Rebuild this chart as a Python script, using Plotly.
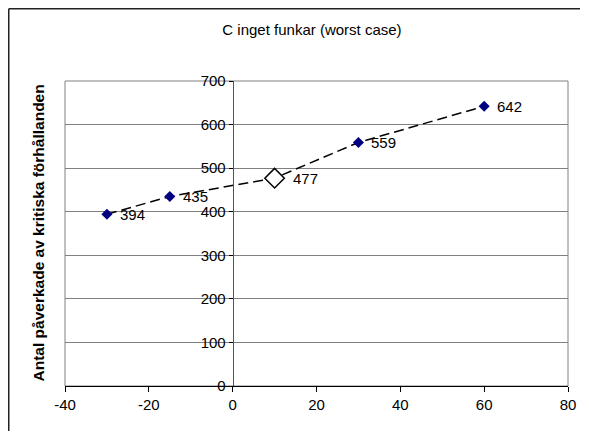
import plotly.graph_objects as go

x_vals = [-30, -15, 10, 30, 60]
y_vals = [394, 435, 477, 559, 642]
labels = ["394", "435", "477", "559", "642"]
hollow_index = 2

x_ticks = [-40, -20, 0, 20, 40, 60, 80]
x_tick_text = ["-40", "-20", "0", "20", "40", "60", "80"]

title_text = "C inget funkar (worst case)"
y_title = "Antal påverkade av kritiska förhållanden"

FONT = "Liberation Sans, Arial, sans-serif"

# The page body has an 8px default margin; figure coords = page coords - 8
W, H = 572, 423
L, T, PW, PH = 57, 73, 503, 305

solid_x = [x for i, x in enumerate(x_vals) if i != hollow_index]
solid_y = [y for i, y in enumerate(y_vals) if i != hollow_index]

fig = go.Figure()
fig.add_trace(go.Scatter(
    x=x_vals, y=y_vals, mode="lines",
    line=dict(color="black", width=1.5, dash="10px,5px"),
    showlegend=False, hoverinfo="skip"))
fig.add_trace(go.Scatter(
    x=solid_x, y=solid_y, mode="markers",
    marker=dict(symbol="diamond", size=8.5, color="#000080",
                line=dict(color="#000080", width=0)),
    showlegend=False))
fig.add_trace(go.Scatter(
    x=[x_vals[hollow_index]], y=[y_vals[hollow_index]], mode="markers",
    marker=dict(symbol="diamond", size=15, color="white",
                line=dict(color="black", width=1.5)),
    showlegend=False))

label_annotations = [
    dict(x=xv, y=yv, text=t, xref="x", yref="y", showarrow=False,
         xanchor="left", yanchor="middle",
         xshift=(16 if i == hollow_index else 11),
         font=dict(family=FONT, size=15, color="black"))
    for i, (xv, yv, t) in enumerate(zip(x_vals, y_vals, labels))
]

fig.update_layout(
    template="none",
    width=W, height=H,
    margin=dict(l=L, r=W - L - PW, t=T, b=H - T - PH, pad=0,
                autoexpand=False),
    paper_bgcolor="white", plot_bgcolor="white",
    font=dict(family=FONT, size=15, color="black"),
    title=dict(text=title_text, x=0.491, xref="paper", y=1 - 22 / H,
               yref="container", xanchor="center", yanchor="middle",
               font=dict(family=FONT, size=15, color="black")),
    xaxis=dict(range=[-40, 80], tickvals=x_ticks, ticktext=x_tick_text,
               showgrid=False, zeroline=False, showline=True,
               linecolor="black", linewidth=1, automargin=False,
               ticks="outside", ticklen=5, tickcolor="black",
               tickfont=dict(family=FONT, size=15, color="black")),
    yaxis=dict(range=[0, 700], dtick=100, showgrid=True, gridcolor="#808080",
               gridwidth=1, zeroline=False, showline=True, linecolor="#555555",
               linewidth=1, anchor="free", position=1 / 3, automargin=False,
               ticks="outside", ticklen=4, tickcolor="black",
               tickfont=dict(family=FONT, size=15, color="black")),
    shapes=[
        dict(type="rect", xref="paper", yref="paper", x0=0, x1=1, y0=0, y1=1,
             line=dict(color="#808080", width=1), layer="below"),
        dict(type="line", xref="paper", yref="paper",
             x0=(0.75 - L) / PW, x1=1.3, y0=1 + (T - 0.75) / PH,
             y1=1 + (T - 0.75) / PH, line=dict(color="#222222", width=1.5)),
        dict(type="line", xref="paper", yref="paper",
             x0=(0.75 - L) / PW, x1=(0.75 - L) / PW, y0=-0.5,
             y1=1 + (T - 0.75) / PH, line=dict(color="#222222", width=1.5)),
    ],
    annotations=label_annotations + [
        dict(text="<b>" + y_title + "</b>", textangle=-90, xref="paper",
             yref="paper", x=(38 - 65) / PW, y=0.5, showarrow=False,
             xanchor="center", yanchor="middle",
             font=dict(family=FONT, size=15.5, color="black")),
    ],
)

fig.write_html("out.html")
